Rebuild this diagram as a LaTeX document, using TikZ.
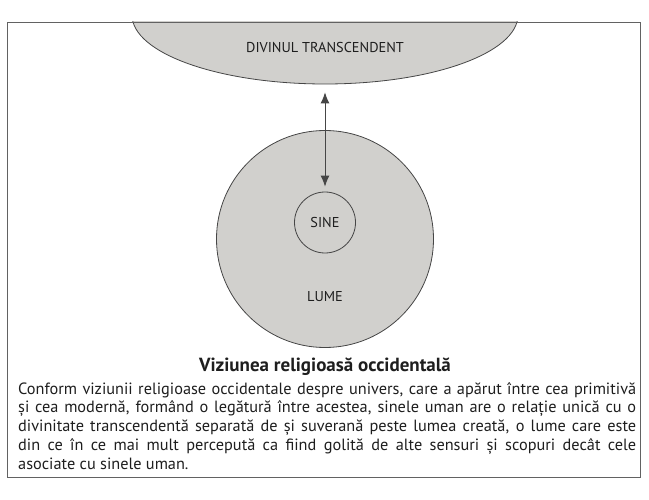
\documentclass[tikz,border=0pt]{standalone}
\usepackage{fontspec}
\setmainfont{PT Sans}
\usetikzlibrary{arrows.meta,shapes.geometric}
\definecolor{zona}{RGB}{209,208,205}
\definecolor{contur}{RGB}{70,70,70}
\definecolor{scris}{RGB}{30,30,30}
\begin{document}
\begin{tikzpicture}[x=1pt,y=-1pt,
  zonafill/.style={draw=contur,line width=0.8pt,fill=zona},
  eticheta/.style={text=scris,font=\fontsize{14.3}{16}\selectfont,inner sep=0pt}]
 \useasboundingbox (0,0) rectangle (649,500);
 \begin{scope}
  \clip (0,22) rectangle (649,500);
  \node[zonafill,ellipse,minimum width=386,minimum height=138,inner sep=0pt] (divin) at (325,15) {};
 \end{scope}
 \node[eticheta] (divintext) at (325,47) {DIVINUL TRANSCENDENT};
 \node[zonafill,circle,minimum size=217,inner sep=0pt] (lume) at (325,239) {};
 \node[zonafill,circle,minimum size=61,inner sep=0pt] (sine) at (325,222.5) {};
 \node[eticheta] (sinetext) at (sine) {SINE};
 \node[eticheta] (lumetext) at (325,297) {LUME};
 \draw[contur,line width=0.9pt,{Latex[length=11pt,width=9pt]}-{Latex[length=11pt,width=9pt]},shorten <=8pt,shorten >=5pt] (divin.south) -- (sine.north);
 \node[text=scris,font=\bfseries\fontsize{19}{21}\selectfont,inner sep=0pt] (titlu) at (325,367) {Viziunea religioasă occidentală};
 \node[text=scris,font=\fontsize{16.3}{18.8}\selectfont,inner sep=0pt,anchor=north west,text width=618pt,align=justify] (text) at (18,382)
  {Conform viziunii religioase occidentale despre univers, care a apărut între cea primitivă\linebreak
   și cea modernă, formând o legătură între acestea, sinele uman are o relație unică cu o\linebreak
   divinitate transcendentă separată de și suverană peste lumea creată, o lume care este\linebreak
   din ce în ce mai mult percepută ca fiind golită de alte sensuri și scopuri decât cele\linebreak
   asociate cu sinele uman.};
 \draw[contur!85,line width=0.9pt] (7,22) rectangle (640,477);
\end{tikzpicture}
\end{document}
